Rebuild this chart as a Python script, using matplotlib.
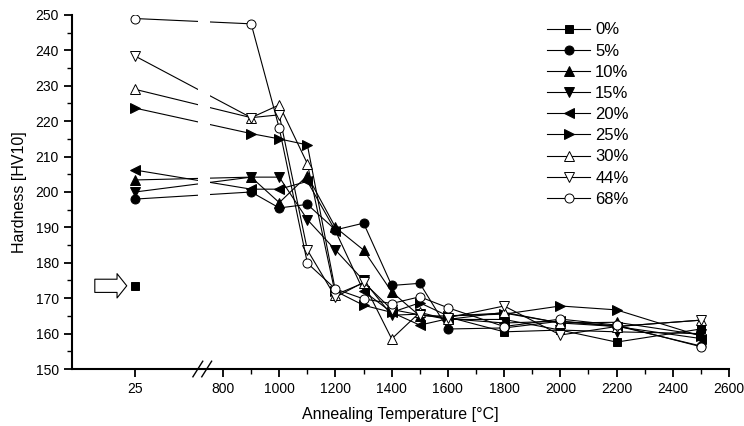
import numpy as np
import matplotlib.pyplot as plt

plt.rcParams['font.family'] = ['Liberation Sans', 'DejaVu Sans']

# Annealing temperatures (25 = as-received, sits left of the axis break)
temps = [25, 900, 1000, 1100, 1200, 1300, 1400, 1500, 1600, 1800, 2000, 2200, 2500]

# Hardness values per deformation level (nan = no visible point)
nan = np.nan
hv_0 = [173.5, nan, nan, nan, nan, nan, nan, nan, 164.7, 160.5, 161.0, 157.6, 161.3]
hv_5 = [198.0, 200.0, 195.5, 196.5, 189.3, 191.2, 173.6, 174.2, 161.3, 161.6, 163.5, 162.2, 156.5]
hv_10 = [203.4, 204.2, 197.0, 204.6, 190.0, 183.6, 171.8, 165.0, 165.0, 165.8, 163.0, 163.2, 159.6]
hv_15 = [200.0, 204.2, 204.2, 192.2, 183.6, 175.0, 165.2, 165.5, 164.0, 164.0, 161.0, 160.5, 160.0]
hv_20 = [206.2, 200.8, 200.8, 203.0, 189.0, 172.0, 166.0, 162.4, 164.2, 163.0, 163.5, 162.0, 158.6]
hv_25 = [223.7, 216.5, 215.0, 213.3, 172.0, 168.0, 166.0, 168.7, 165.0, 165.5, 167.8, 166.7, 159.3]
hv_30 = [229.0, 221.0, 224.6, 208.0, 171.0, 174.3, 158.5, 166.0, 164.0, 166.0, 163.0, 162.0, 163.8]
hv_44 = [238.4, 221.0, 221.8, 183.6, 170.3, 174.5, 166.8, 165.3, 164.5, 167.8, 159.6, 162.0, 163.8]
hv_68 = [249.0, 247.5, 218.0, 179.9, 172.6, 169.8, 168.5, 170.4, 167.3, 162.0, 164.1, 162.4, 156.3]

labels = ['0%', '5%', '10%', '15%', '20%', '25%', '30%', '44%', '68%']
series = [hv_0, hv_5, hv_10, hv_15, hv_20, hv_25, hv_30, hv_44, hv_68]
markers = ['s', 'o', '^', 'v', '<', '>', '^', 'v', 'o']
filled = [True, True, True, True, True, True, False, False, False]
msize = {'s': 5.5, 'o': 6.5, '^': 7, 'v': 7, '<': 7, '>': 7}

# broken x axis: 25 °C is placed at a fixed position left of 800
POS_25 = 487
def xpos(t):
    return np.array([POS_25 if v < 800 else v for v in t], dtype=float)

x = xpos(temps)

fig = plt.figure(figsize=(7.44, 4.26), dpi=100)
ax = fig.add_axes([0.0968, 0.1338, 0.883, 0.8310])

handles = []
for i, (lab, y, m, f) in enumerate(zip(labels, series, markers, filled)):
    y = np.array(y, dtype=float)
    fc = 'black' if f else 'white'
    kw = dict(color='black', lw=0.8, marker=m, markersize=msize[m],
              markerfacecolor=fc, markeredgecolor='black', markeredgewidth=0.7,
              zorder=2 + i * 0.01)
    if i == 0:
        # as-received point stands alone, no line to the annealed values
        h, = ax.plot(x[1:], y[1:], label=lab, **kw)
        ax.plot(x[:1], y[:1], ls='none', **kw)
        ax.annotate('', xy=(x[0], y[0]), xytext=(-29, 0), textcoords='offset points',
                    arrowprops=dict(arrowstyle='simple,head_length=0.7,head_width=1.75,tail_width=0.95',
                                    mutation_scale=10, fc='white', ec='black', lw=0.8,
                                    shrinkA=0, shrinkB=6))
    else:
        h, = ax.plot(x, y, label=lab, **kw)
    handles.append(h)

# white gap in the lines at the axis break
ax.axvspan(711, 754, color='white', zorder=2.2, lw=0)

ax.set_xlim(262.6, 2600)
ax.set_ylim(150, 250)

ax.set_xticks([POS_25] + list(range(800, 2601, 200)))
ax.set_xticklabels(['25'] + [str(v) for v in range(800, 2601, 200)])
ax.set_xticks(list(range(900, 2600, 200)), minor=True)
ax.set_yticks(range(150, 251, 10))
ax.set_yticks(range(155, 250, 10), minor=True)

ax.spines['top'].set_visible(False)
ax.spines['right'].set_visible(False)
for s in ['left', 'bottom']:
    ax.spines[s].set_linewidth(1.5)
ax.tick_params(which='major', direction='out', length=6, width=1.3, labelsize=10)
ax.tick_params(which='minor', direction='out', length=3.5, width=1.0)

# break marks on the x axis
for dx in (0.0, 0.0135):
    ax.plot([0.1840 + dx, 0.1990 + dx], [-0.022, 0.022], transform=ax.transAxes,
            color='black', lw=1.0, clip_on=False, zorder=5)

ax.set_xlabel('Annealing Temperature [°C]', fontsize=11.5, labelpad=8)
ax.set_ylabel('Hardness [HV10]', fontsize=11.5, labelpad=6)

ax.legend(handles=handles, loc='upper left', bbox_to_anchor=(0.705, 1.012), frameon=False,
          fontsize=12, handlelength=2.6, handletextpad=0.3, labelspacing=0.37,
          borderaxespad=0.3)

fig.savefig('out.png', dpi=100)
